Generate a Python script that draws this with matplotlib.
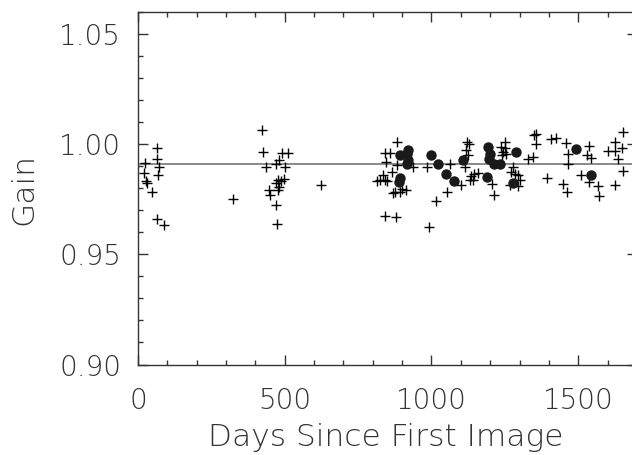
import matplotlib
matplotlib.use('Agg')
import matplotlib.pyplot as plt
from matplotlib.ticker import MultipleLocator

# gain measurements (plus signs)
days_plus = [24, 21, 28, 32, 49, 64, 66, 69, 72, 66, 89,
             324, 423, 425, 436, 446, 450, 469, 470, 470, 474, 476, 478, 481, 481, 489, 491, 497, 501, 512, 622,
             815, 824, 835, 841, 847, 841, 860, 845, 867, 881, 883, 875, 894, 901, 913, 869, 841, 878, 937, 985, 992,
             1017, 1054, 1062, 1102, 1113, 1117, 1121, 1125, 1128, 1130, 1134, 1142, 1145, 1157, 1206, 1213,
             1238, 1244, 1241, 1249, 1249, 1255, 1267, 1272, 1278, 1284, 1295, 1300, 1295,
             1329, 1346, 1349, 1357, 1355, 1395, 1408, 1423, 1457, 1465, 1465, 1448, 1460, 1508, 1531, 1545,
             1535, 1535, 1567, 1569, 1601, 1624, 1624, 1649, 1652, 1635, 1652, 1626]
gain_plus = [0.9916, 0.9869, 0.9831, 0.9824, 0.9783, 0.9934, 0.9984, 0.9859, 0.9896, 0.9662, 0.9632,
             0.9753, 1.0063, 0.9964, 0.9896, 0.9791, 0.9768, 0.9912, 0.9723, 0.9824, 0.9636, 0.9791, 0.9839,
             0.9927, 0.9806, 0.9831, 0.9961, 0.9844, 0.9896, 0.9961, 0.9813,
             0.9831, 0.9836, 0.9859, 0.9839, 0.9831, 0.9961, 0.9961, 0.9919, 0.9874, 0.9907, 1.0010, 0.9783,
             0.9783, 0.9798, 0.9791, 0.9780, 0.9673, 0.9670, 0.9896, 0.9896, 0.9624,
             0.9741, 0.9783, 0.9912, 0.9816, 0.9896, 0.9975, 1.0010, 0.9949, 0.9999, 0.9836, 0.9854, 0.9836,
             0.9863, 0.9871, 0.9821, 0.9771,
             0.9987, 0.9964, 0.9949, 1.0010, 0.9984, 0.9957, 0.9813, 0.9874, 0.9896, 0.9866, 0.9859, 0.9839, 0.9809,
             0.9934, 0.9942, 1.0040, 1.0048, 0.9999, 0.9848, 1.0025, 1.0030, 1.0005, 0.9957, 0.9910, 0.9818,
             0.9783, 0.9859, 0.9949, 0.9939,
             0.9990, 0.9828, 0.9809, 0.9763, 0.9969, 0.9969, 1.0010, 0.9984, 1.0055, 0.9934, 0.9878, 0.9816]

# filled circles
days_dot = [893, 920, 918, 920, 917, 893, 891, 1000, 1023, 1051, 1075, 1107, 1191, 1198, 1195, 1212, 1232,
            1188, 1287, 1276, 1491, 1545]
gain_dot = [0.9952, 0.9975, 0.9955, 0.9930, 0.9912, 0.9848, 0.9830, 0.9952, 0.9908, 0.9866, 0.9834, 0.9928,
            0.9987, 0.9957, 0.9932, 0.9908, 0.9909, 0.9853, 0.9966, 0.9825, 0.9980, 0.9860]

mean_gain = 0.9912

plt.rcParams['font.family'] = ['DejaVu Sans']
plt.rcParams['font.weight'] = 'light'

fig = plt.figure(figsize=(6.32, 4.55), dpi=100)
ax = fig.add_axes([0.2182, 0.1989, 0.7897, 0.7747])

ax.axhline(mean_gain, color='#808080', lw=1.3, zorder=1)
ax.plot(days_plus, gain_plus, '+', color='black', ms=6.5, mew=1.0, zorder=2)
ax.plot(days_dot, gain_dot, 'o', color='#1a1a1a', ms=7.5, mec='none', zorder=3)

ax.set_xlim(0, 1700)
ax.set_ylim(0.90, 1.06)
ax.xaxis.set_major_locator(MultipleLocator(500))
ax.xaxis.set_minor_locator(MultipleLocator(100))
ax.yaxis.set_major_locator(MultipleLocator(0.05))
ax.yaxis.set_minor_locator(MultipleLocator(0.01))
ax.yaxis.set_major_formatter(plt.FormatStrFormatter('%.2f'))
ax.tick_params(which='both', direction='in', top=True, right=True, color='#333333', width=1)
ax.tick_params(which='major', length=7.2)
ax.tick_params(which='minor', length=3.6)
ax.tick_params(axis='x', which='major', labelsize=20, pad=16, labelcolor='#333333')
ax.tick_params(axis='y', which='major', labelsize=20, pad=12, labelcolor='#333333')
for s in ax.spines.values():
    s.set_color('#333333')
    s.set_linewidth(1)

fig.text(386/632, 1 - 438/455, 'Days Since First Image', ha='center', va='center', fontsize=22.5, color='#333333')
fig.text(24/632, 1 - 189/455, 'Gain', ha='center', va='center', rotation=90, fontsize=22.5, color='#333333')

fig.savefig('out.png', dpi=100)
